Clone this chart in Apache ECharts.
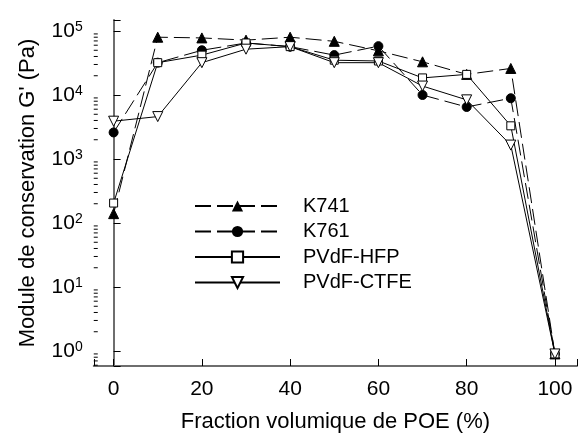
<!DOCTYPE html>
<html>
<head>
<meta charset="utf-8">
<script src="https://cdn.jsdelivr.net/npm/echarts@6/dist/echarts.min.js"></script>
<style>html,body{margin:0;padding:0;background:#fff}#c{width:580px;height:441px}</style>
</head>
<body>
<div id="c"></div>
<script>
const xValues = [0, 10, 20, 30, 40, 50, 60, 70, 80, 90, 100];
const k741 = [140, 80000, 78000, 72000, 80000, 69000, 49000, 33000, 21000, 26000, 0.9];
const k761 = [2600, 32000, 50000, 65000, 57000, 42000, 58000, 10000, 6500, 8900, 0.9];
const pvdfHfp = [205, 32000, 42000, 65000, 57000, 35000, 34000, 18500, 21000, 3300, 0.9];
const pvdfCtfe = [3900, 4600, 32000, 52000, 57000, 32000, 32000, 13800, 8400, 1650, 0.9];
const seriesNames = ['K741', 'K761', 'PVdF-HFP', 'PVdF-CTFE'];
const minorMultipliers = [2, 3, 4, 5, 6, 7, 8, 9];
const minorDecades = [0.1, 1, 10, 100, 1000, 10000];

const X_MIN = -4.5, X_MAX = 105;
const Y_MIN = 0.583, Y_MAX = 148600;
const FONT = 'Liberation Sans, Arial, sans-serif';

const pairs = arr => xValues.map((x, i) => [x, arr[i]]);
const minorTicks = [];
minorDecades.forEach(d => minorMultipliers.forEach(m => {
  const v = +(m * d).toPrecision(6);
  if (v >= Y_MIN && v <= Y_MAX) minorTicks.push([X_MIN, v]);
}));

const chart = echarts.init(document.getElementById('c'), null, {renderer: 'canvas'});
const base = {
  type: 'line',
  lineStyle: {color: '#000', width: 1},
  z: 3
};
chart.setOption({
  animation: false,
  backgroundColor: '#fff',
  textStyle: {fontFamily: FONT, color: '#000'},
  grid: {left: 93.75, right: -6.5, top: 20, bottom: 75, containLabel: false},
  legend: {
    data: seriesNames,
    orient: 'vertical',
    left: 194,
    top: 196,
    padding: 0,
    itemWidth: 85,
    itemHeight: 14,
    itemGap: 5.5,
    textStyle: {fontSize: 20, fontFamily: FONT, color: '#000', padding: [0, 0, 0, 18]},
    selectedMode: false
  },
  xAxis: {
    type: 'value',
    min: X_MIN,
    max: X_MAX,
    splitLine: {show: false},
    axisLine: {lineStyle: {color: '#6e6e6e', width: 2}},
    axisTick: {inside: true, length: 7, lineStyle: {color: '#000', width: 1}},
    axisLabel: {
      fontSize: 21, fontFamily: FONT, color: '#000', margin: 13,
      formatter: v => (Math.abs(v % 20) < 1e-9 && v >= 0 && v <= 100) ? String(v) : ''
    },
    name: 'Fraction volumique de POE (%)',
    nameLocation: 'middle',
    nameGap: 45,
    nameTextStyle: {fontSize: 22, fontFamily: FONT, color: '#000'}
  },
  yAxis: {
    type: 'log',
    logBase: 10,
    min: Y_MIN,
    max: Y_MAX,
    splitLine: {show: false},
    axisLine: {lineStyle: {color: '#6e6e6e', width: 2}},
    axisTick: {inside: true, length: 7, lineStyle: {color: '#000', width: 1}},
    axisLabel: {
      margin: 11,
      formatter: v => {
        const l = Math.log10(v);
        const e = Math.round(l);
        if (Math.abs(l - e) > 1e-6) return '';
        return '{b|10}{s|' + e + '}';
      },
      rich: {
        b: {fontSize: 21, fontFamily: FONT, color: '#000'},
        s: {fontSize: 14, fontFamily: FONT, color: '#000', verticalAlign: 'top', lineHeight: 14}
      }
    },
    name: "Module de conservation G' (Pa)",
    nameLocation: 'middle',
    nameGap: 55,
    nameTextStyle: {fontSize: 22, fontFamily: FONT, color: '#000'}
  },
  series: [
    Object.assign({}, base, {
      name: 'K741', data: pairs(k741), symbol: 'triangle', symbolSize: 10,
      lineStyle: {color: '#000', width: 1, type: [16, 6]},
      itemStyle: {color: '#000', borderColor: '#000'}
    }),
    Object.assign({}, base, {
      name: 'K761', data: pairs(k761), symbol: 'circle', symbolSize: 9,
      lineStyle: {color: '#000', width: 1, type: [16, 6]},
      itemStyle: {color: '#000', borderColor: '#000'}
    }),
    Object.assign({}, base, {
      name: 'PVdF-HFP', data: pairs(pvdfHfp), symbol: 'rect', symbolSize: 8,
      itemStyle: {color: '#fff', borderColor: '#000', borderWidth: 1}
    }),
    Object.assign({}, base, {
      name: 'PVdF-CTFE', data: pairs(pvdfCtfe), symbol: 'triangle', symbolSize: 10, symbolRotate: 180,
      itemStyle: {color: '#fff', borderColor: '#000', borderWidth: 1}
    }),
    {
      type: 'custom',
      name: 'minorTicks',
      silent: true,
      data: minorTicks,
      z: 4,
      renderItem: (params, api) => {
        const p = api.coord([X_MIN, api.value(1)]);
        return {type: 'line', shape: {x1: p[0], y1: p[1], x2: p[0] + 4, y2: p[1]}, style: {stroke: '#000', lineWidth: 1}};
      }
    }
  ]
});
</script>
</body>
</html>
